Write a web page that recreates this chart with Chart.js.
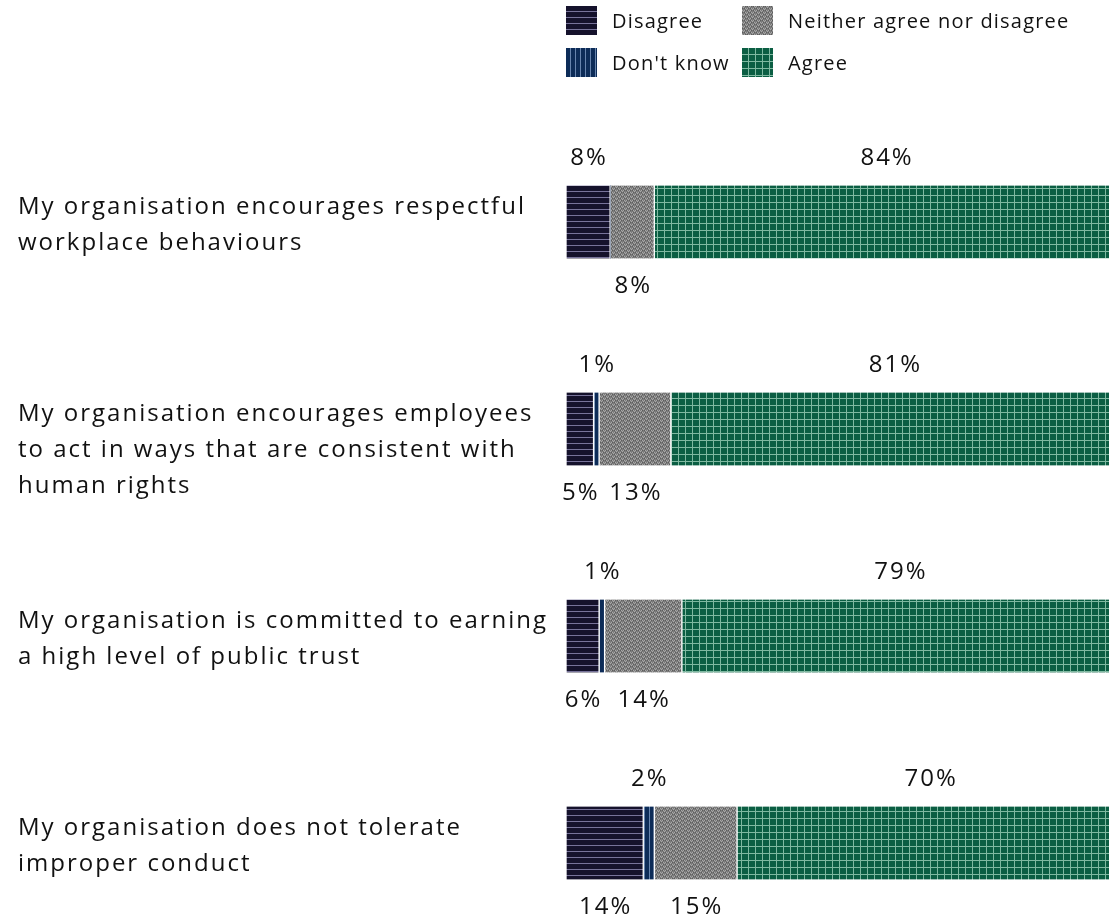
<!DOCTYPE html>
<html>
<head>
<meta charset="utf-8">
<script src="https://cdn.jsdelivr.net/npm/chart.js@4"></script>
<style>
  html, body { margin: 0; padding: 0; background: #fff; }
  body { width: 1109px; height: 917px; position: relative; overflow: hidden; font-family: "Open Sans", sans-serif; color: #111; }
  #chartBox { position: absolute; left: 0; top: 0; width: 1109px; height: 917px; }
  .lg { position: absolute; display: flex; align-items: center; font-size: 20px; letter-spacing: 1.2px; }
  .lg canvas { width: 31px; height: 29px; margin-right: 15px; }
</style>
</head>
<body>
<div id="chartBox"><canvas id="survey"></canvas></div>
<div class="lg" style="left:566px;top:6px"><canvas id="lg0" width="31" height="29"></canvas>Disagree</div>
<div class="lg" style="left:742px;top:6px"><canvas id="lg2" width="31" height="29"></canvas>Neither agree nor disagree</div>
<div class="lg" style="left:566px;top:48px"><canvas id="lg1" width="31" height="29"></canvas>Don't know</div>
<div class="lg" style="left:742px;top:48px"><canvas id="lg3" width="31" height="29"></canvas>Agree</div>
<script>
// categories (blank first line on the second one pushes the text down like the original)
const categories = [
    ["My organisation encourages respectful", "workplace behaviours"],
    ["", "My organisation encourages employees", "to act in ways that are consistent with", "human rights"],
    ["My organisation is committed to earning", "a high level of public trust"],
    ["My organisation does not tolerate", "improper conduct"]
];
const seriesNames = ["Disagree", "Don't know", "Neither agree nor disagree", "Agree"];
const disagree = [8, 5, 6, 14];
const dontKnow = [0, 1, 1, 2];
const neither = [8, 13, 14, 15];
const agree = [84, 81, 79, 70];

// pattern tiles
function makeTile(w, h, draw) {
    const c = document.createElement("canvas");
    c.width = w; c.height = h;
    const g = c.getContext("2d");
    draw(g, w, h);
    return c;
}
const tiles = [
    makeTile(6, 6, function (g, w, h) {
        g.fillStyle = "#15122c"; g.fillRect(0, 0, w, h);
        g.fillStyle = "#77739a"; g.fillRect(0, 5, w, 1);
    }),
    makeTile(5, 5, function (g, w, h) {
        g.fillStyle = "#0d2c58"; g.fillRect(0, 0, w, h);
        g.fillStyle = "#6784ad"; g.fillRect(4, 0, 1, h);
    }),
    makeTile(6, 4, function (g, w, h) {
        g.fillStyle = "#7b7b7b"; g.fillRect(0, 0, w, h);
        g.fillStyle = "#a9a9a9";
        g.fillRect(0, 0, 1, 1); g.fillRect(1, 1, 1, 1); g.fillRect(2, 0, 1, 1);
        g.fillRect(3, 2, 1, 1); g.fillRect(4, 3, 1, 1); g.fillRect(5, 2, 1, 1);
        g.fillStyle = "#5c5c5c";
        g.fillRect(0, 2, 1, 1); g.fillRect(2, 2, 1, 1); g.fillRect(3, 0, 1, 1); g.fillRect(5, 0, 1, 1);
    }),
    makeTile(7, 7, function (g, w, h) {
        g.fillStyle = "#0b5e43"; g.fillRect(0, 0, w, h);
        g.fillStyle = "#7fb9a1"; g.fillRect(0, 6, w, 1); g.fillRect(6, 0, 1, h);
    })
];

var ctx = document.getElementById("survey").getContext("2d");
const patterns = tiles.map(function (t) { return ctx.createPattern(t, "repeat"); });

// legend swatches
tiles.forEach(function (t, i) {
    var lc = document.getElementById("lg" + i).getContext("2d");
    lc.fillStyle = lc.createPattern(t, "repeat");
    lc.fillRect(0, 0, 31, 29);
});

// the original font is wider than Open Sans, so open the letters up a bit
const spacing = {
    id: "spacing",
    beforeUpdate: function (chart) { chart.ctx.letterSpacing = "2px"; },
    beforeDraw: function (chart) { chart.ctx.letterSpacing = "2px"; }
};

// value labels, alternating above / below, last segment always above
const pctLabels = {
    id: "pctLabels",
    afterDatasetsDraw: function (chart) {
        const c = chart.ctx;
        c.save();
        c.font = "24px 'Open Sans', sans-serif";
        c.fillStyle = "#111";
        c.textAlign = "center";
        c.textBaseline = "middle";
        for (let i = 0; i < categories.length; i++) {
            const segs = [];
            chart.data.datasets.forEach(function (ds, d) {
                if (ds.data[i] > 0) segs.push({ v: ds.data[i], el: chart.getDatasetMeta(d).data[i] });
            });
            segs.forEach(function (s, k) {
                const above = (segs.length - 1 - k) % 2 === 0;
                const el = s.el;
                const x = (el.x + el.base) / 2 + 1;
                const y = above ? el.y - el.height / 2 - 27 : el.y + el.height / 2 + 28;
                c.fillText(s.v + "%", x, y);
            });
        }
        c.restore();
    }
};

new Chart(ctx, {
    type: "bar",
    data: {
        labels: categories,
        datasets: [
            { label: seriesNames[0], data: disagree, backgroundColor: patterns[0] },
            { label: seriesNames[1], data: dontKnow, backgroundColor: patterns[1] },
            { label: seriesNames[2], data: neither, backgroundColor: patterns[2] },
            { label: seriesNames[3], data: agree, backgroundColor: patterns[3] }
        ].map(function (ds) {
            ds.borderColor = "#ffffff";
            ds.borderWidth = { left: 1, right: 1, top: 0, bottom: 0 };
            ds.borderSkipped = false;
            ds.barThickness = 73;
            ds.clip = false;
            return ds;
        })
    },
    options: {
        indexAxis: "y",
        responsive: true,
        maintainAspectRatio: false,
        animation: false,
        layout: { padding: { left: 18, top: 222, bottom: 74, right: 0 } },
        plugins: { legend: { display: false }, tooltip: { enabled: false } },
        scales: {
            x: {
                stacked: true,
                display: false,
                min: 0,
                max: 98.4
            },
            y: {
                stacked: true,
                offset: false,
                grid: { display: false },
                border: { display: false },
                ticks: {
                    crossAlign: "far",
                    color: "#111",
                    padding: 0,
                    labelOffset: 3,
                    font: { family: "'Open Sans', sans-serif", size: 24, lineHeight: 1.5 }
                },
                afterFit: function (scale) { scale.width = 548; }
            }
        }
    },
    plugins: [spacing, pctLabels]
});
</script>
</body>
</html>
